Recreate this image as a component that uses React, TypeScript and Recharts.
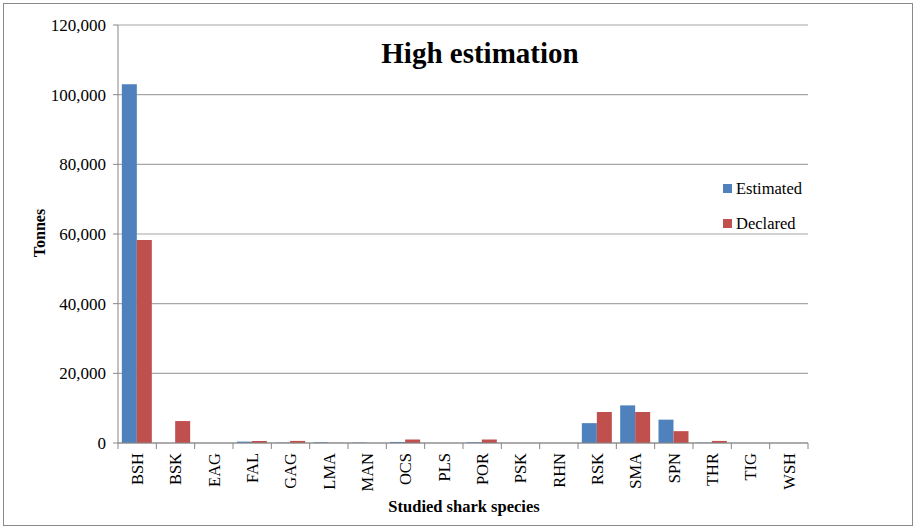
import { BarChart, Bar, XAxis, YAxis, CartesianGrid } from 'recharts'

const species = ['BSH', 'BSK', 'EAG', 'FAL', 'GAG', 'LMA', 'MAN', 'OCS', 'PLS', 'POR', 'PSK', 'RHN', 'RSK', 'SMA', 'SPN', 'THR', 'TIG', 'WSH']
const estimated = [103000, 0, 0, 400, 100, 200, 100, 300, 0, 200, 0, 0, 5700, 10800, 6700, 100, 0, 0]
const declared = [58300, 6300, 0, 600, 600, 50, 0, 1000, 0, 1000, 0, 0, 8900, 8900, 3400, 600, 0, 0]
const yTicks = [0, 20000, 40000, 60000, 80000, 100000, 120000]

const data = species.map((s, i) => ({ name: s, Estimated: estimated[i], Declared: declared[i] }))

const FONT = '"Liberation Serif", "Times New Roman", serif'
const BLUE = '#4F81BD'
const RED = '#C0504D'
const BAND = 690 / species.length

function SpeciesTick(props: any) {
  const { x, y, payload, index } = props
  const left = x - BAND / 2
  return (
    <g>
      <line x1={left} y1={y - 8} x2={left} y2={y - 2} stroke="#868686" />
      {index === species.length - 1 && (
        <line x1={left + BAND} y1={y - 8} x2={left + BAND} y2={y - 2} stroke="#868686" />
      )}
      <text
        transform={`translate(${x},${y + 2}) rotate(-90)`}
        textAnchor="end"
        dy="0.35em"
        fontFamily={FONT}
        fontSize={16.5}
        fill="#000"
      >
        {payload.value}
      </text>
    </g>
  )
}

export default function App() {
  return (
    <div style={{ position: 'absolute', left: 0, top: 0, width: 915, height: 528, background: '#fff', fontFamily: FONT }}>
      <div style={{ position: 'absolute', left: 3, top: 3, width: 908, height: 521, border: '1px solid #8a8a8a' }} />
      <BarChart
        width={915}
        height={528}
        data={data}
        margin={{ top: 25, right: 107, left: 38, bottom: 10 }}
        barCategoryGap="10%"
        barGap={0}
      >
        <CartesianGrid vertical={false} stroke="#a6a6a6" strokeWidth={1.2} />
        <XAxis
          dataKey="name"
          height={75}
          interval={0}
          tickLine={false}
          axisLine={{ stroke: '#868686' }}
          tick={<SpeciesTick />}
        />
        <YAxis
          width={80}
          domain={[0, 120000]}
          ticks={yTicks}
          interval={0}
          tickLine={{ stroke: '#868686' }}
          tickSize={5}
          tickMargin={7}
          axisLine={{ stroke: '#868686' }}
          tickFormatter={(v: number) => v.toLocaleString('en-US')}
          tick={{ fontFamily: FONT, fontSize: 17, fill: '#000' }}
        />
        <Bar dataKey="Estimated" fill={BLUE} isAnimationActive={false} />
        <Bar dataKey="Declared" fill={RED} isAnimationActive={false} />
      </BarChart>
      <div style={{ position: 'absolute', left: 0, width: 960, top: 37, textAlign: 'center', fontSize: 29, fontWeight: 'bold' }}>
        High estimation
      </div>
      <div style={{ position: 'absolute', left: 0, width: 928, top: 497, textAlign: 'center', fontSize: 16.5, fontWeight: 'bold' }}>
        Studied shark species
      </div>
      <div style={{ position: 'absolute', left: 40, top: 233, transform: 'translate(-50%, -50%) rotate(-90deg)', fontSize: 16, fontWeight: 'bold', whiteSpace: 'nowrap' }}>
        Tonnes
      </div>
      <div style={{ position: 'absolute', left: 723, top: 178, fontSize: 16.5 }}>
        {[['Estimated', BLUE], ['Declared', RED]].map(([label, color], i) => (
          <div key={label} style={{ display: 'flex', alignItems: 'center', height: 21, marginBottom: i === 0 ? 14 : 0 }}>
            <span style={{ width: 9, height: 9, background: color, display: 'inline-block', marginRight: 4 }} />
            {label}
          </div>
        ))}
      </div>
    </div>
  )
}
